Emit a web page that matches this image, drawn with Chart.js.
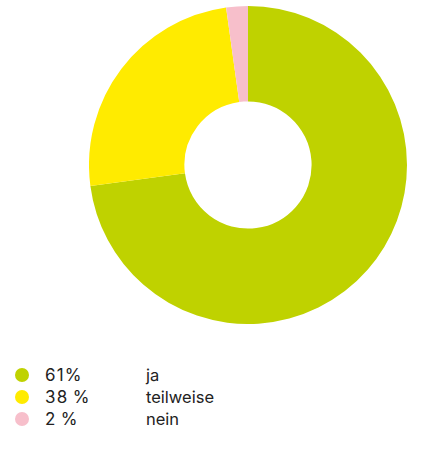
<!DOCTYPE html>
<html>
<head>
  <title>ja / teilweise / nein</title>
  <script src="https://cdn.jsdelivr.net/npm/chart.js"></script>
  <style>
    body {
      margin: 0;
      padding: 0;
      background: #fff;
      font-family: Inter, 'Open Sans', Arial, sans-serif;
      width: 423px;
      height: 450px;
      position: relative;
      overflow: hidden;
    }
    #chartBox {
      position: absolute;
      left: 89px;
      top: 6px;
      width: 318px;
      height: 318px;
    }
    #legend {
      position: absolute;
      left: 15px;
      top: 364px;
      font-size: 16.5px;
      color: #222;
    }
    .row {
      display: flex;
      align-items: center;
      height: 22px;
    }
    .dot {
      width: 14px;
      height: 14px;
      border-radius: 50%;
      margin-right: 16px;
    }
    .pct {
      width: 101px;
      font-size: 17px;
      letter-spacing: 1.2px;
    }
  </style>
</head>
<body>
  <div id="chartBox"><canvas id="donut"></canvas></div>
  <div id="legend"></div>

  <script>
    const categories = ['ja', 'teilweise', 'nein'];
    const percentLabels = ['61%', '38\u2009%', '2\u2009%'];
    // slice sizes as drawn in the picture
    const sliceValues = [72.9, 24.9, 2.2];
    const colors = ['#bfd200', '#ffeb00', '#f7bfcb'];

    new Chart(document.getElementById('donut'), {
      type: 'doughnut',
      data: {
        labels: categories,
        datasets: [{
          data: sliceValues,
          backgroundColor: colors,
          borderWidth: 0
        }]
      },
      options: {
        responsive: true,
        maintainAspectRatio: false,
        animation: false,
        cutout: '40%',
        layout: { padding: 0 },
        plugins: {
          legend: { display: false },
          tooltip: { enabled: false }
        }
      }
    });

    const legendDiv = document.getElementById('legend');
    categories.forEach((name, i) => {
      const row = document.createElement('div');
      row.className = 'row';
      row.innerHTML = `<span class="dot" style="background:${colors[i]}"></span>` +
        `<span class="pct">${percentLabels[i]}</span><span>${name}</span>`;
      legendDiv.appendChild(row);
    });
  </script>
</body>
</html>
